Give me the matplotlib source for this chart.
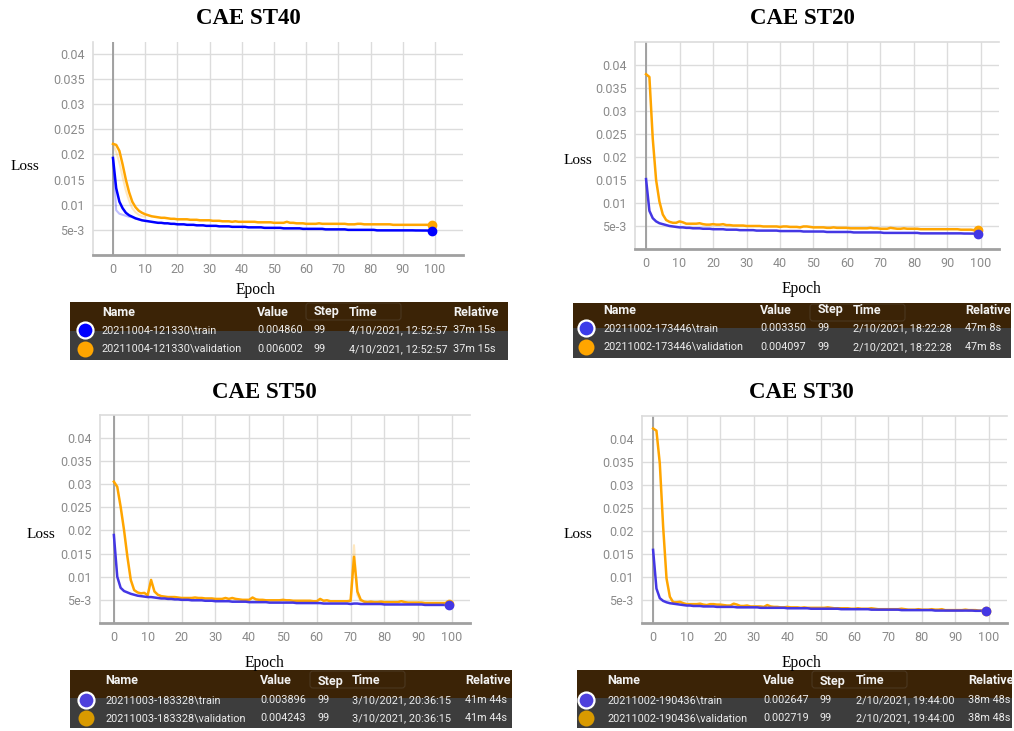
import matplotlib
matplotlib.use("Agg")
import matplotlib.pyplot as plt
from matplotlib.patches import Rectangle, FancyBboxPatch

W, H, DPI = 1014, 731, 100

epochs = list(range(100))

# ---- CAE ST40 ----
st40_train = [0.0193, 0.0133, 0.0106, 0.0093, 0.0084, 0.0079, 0.0076, 0.0073, 0.0071, 0.0069,
              0.0068, 0.0067, 0.0066, 0.0065, 0.0064, 0.0064, 0.0063, 0.0063, 0.0062, 0.0062,
              0.0061, 0.0061, 0.0061, 0.0060, 0.0060, 0.0060, 0.0059, 0.0059, 0.0059, 0.0058,
              0.0058, 0.0058, 0.0058, 0.0057, 0.0057, 0.0057, 0.0057, 0.0056, 0.0056, 0.0056,
              0.0056, 0.0056, 0.0055, 0.0055, 0.0055, 0.0055, 0.0055, 0.0054, 0.0054, 0.0054,
              0.0054, 0.0054, 0.0054, 0.0053, 0.0053, 0.0053, 0.0053, 0.0053, 0.0053, 0.0052,
              0.0052, 0.0052, 0.0052, 0.0052, 0.0052, 0.0052, 0.0051, 0.0051, 0.0051, 0.0051,
              0.0051, 0.0051, 0.0051, 0.0050, 0.0050, 0.0050, 0.0050, 0.0050, 0.0050, 0.0050,
              0.0050, 0.0050, 0.0049, 0.0049, 0.0049, 0.0049, 0.0049, 0.0049, 0.0049, 0.0049,
              0.0049, 0.0049, 0.0049, 0.0049, 0.00488, 0.00488, 0.00487, 0.00487, 0.00486, 0.00486]
st40_val = [0.0221, 0.0219, 0.0207, 0.0180, 0.0150, 0.0125, 0.0106, 0.0095, 0.0088, 0.0084,
            0.0081, 0.0079, 0.0077, 0.0076, 0.0075, 0.0074, 0.0074, 0.0073, 0.0072, 0.0072,
            0.0071, 0.0071, 0.0071, 0.0071, 0.0070, 0.0070, 0.0070, 0.0069, 0.0069, 0.0069,
            0.0069, 0.0068, 0.0068, 0.0068, 0.0067, 0.0067, 0.0067, 0.0066, 0.0067, 0.0066,
            0.0066, 0.0066, 0.0066, 0.0066, 0.0066, 0.0065, 0.0065, 0.0065, 0.0065, 0.0065,
            0.0064, 0.0064, 0.0064, 0.0064, 0.0066, 0.0064, 0.0064, 0.0063, 0.0063, 0.0063,
            0.0062, 0.0062, 0.0062, 0.0062, 0.0063, 0.0062, 0.0062, 0.0062, 0.0062, 0.0062,
            0.0062, 0.0062, 0.0062, 0.0061, 0.0061, 0.0061, 0.0062, 0.0062, 0.0061, 0.0061,
            0.0061, 0.0061, 0.0061, 0.0061, 0.0061, 0.0061, 0.0061, 0.0060, 0.0060, 0.0060,
            0.0060, 0.0060, 0.0060, 0.0060, 0.0060, 0.0060, 0.0060, 0.0060, 0.0060, 0.0060]
st40_train_raw_x = [0, 1, 2, 3, 4, 5, 6, 7, 8]
st40_train_raw = [0.0193, 0.0089, 0.0082, 0.0080, 0.0078, 0.0076, 0.0075, 0.0072, 0.0071]
st40_val_raw_x = [0, 1, 2, 3, 4, 5, 6, 7, 8, 9, 10]
st40_val_raw = [0.0221, 0.0205, 0.0183, 0.0155, 0.0128, 0.0108, 0.0093, 0.0085, 0.0080, 0.0077, 0.0076]

# ---- CAE ST20 ----
st20_train = [0.0152, 0.0083, 0.0067, 0.0060, 0.0056, 0.0054, 0.0052, 0.0050, 0.0049, 0.0048,
              0.0047, 0.0047, 0.0046, 0.0046, 0.0045, 0.0045, 0.0045, 0.0044, 0.0044, 0.0044,
              0.0043, 0.0043, 0.0043, 0.0043, 0.0042, 0.0042, 0.0042, 0.0042, 0.0041, 0.0041,
              0.0041, 0.0041, 0.0041, 0.0040, 0.0040, 0.0040, 0.0040, 0.0040, 0.0040, 0.0040,
              0.0039, 0.0039, 0.0039, 0.0039, 0.0039, 0.0039, 0.0039, 0.0038, 0.0038, 0.0038,
              0.0038, 0.0038, 0.0038, 0.0038, 0.0037, 0.0037, 0.0037, 0.0037, 0.0037, 0.0037,
              0.0037, 0.0037, 0.0036, 0.0036, 0.0036, 0.0036, 0.0036, 0.0036, 0.0036, 0.0036,
              0.0036, 0.0035, 0.0035, 0.0035, 0.0035, 0.0035, 0.0035, 0.0035, 0.0035, 0.0035,
              0.0035, 0.0035, 0.0034, 0.0034, 0.0034, 0.0034, 0.0034, 0.0034, 0.0034, 0.0034,
              0.0034, 0.0034, 0.0034, 0.0034, 0.0034, 0.00336, 0.00336, 0.00335, 0.00335, 0.00335]
st20_val = [0.0380, 0.0374, 0.0240, 0.0150, 0.0103, 0.0075, 0.0063, 0.0059, 0.0057, 0.0057,
            0.0060, 0.0058, 0.0055, 0.0055, 0.0055, 0.0055, 0.0056, 0.0054, 0.0053, 0.0053,
            0.0054, 0.0053, 0.0053, 0.0054, 0.0052, 0.0052, 0.0051, 0.0051, 0.0051, 0.0051,
            0.0050, 0.0050, 0.0050, 0.0050, 0.0050, 0.0049, 0.0049, 0.0049, 0.0049, 0.0049,
            0.0048, 0.0049, 0.0049, 0.0048, 0.0048, 0.0048, 0.0047, 0.0049, 0.0049, 0.0048,
            0.0047, 0.0047, 0.0047, 0.0047, 0.0046, 0.0046, 0.0047, 0.0046, 0.0046, 0.0046,
            0.0046, 0.0045, 0.0045, 0.0045, 0.0045, 0.0045, 0.0045, 0.0046, 0.0045, 0.0045,
            0.0044, 0.0044, 0.0044, 0.0046, 0.0045, 0.0044, 0.0044, 0.0045, 0.0044, 0.0044,
            0.0044, 0.0044, 0.0043, 0.0043, 0.0043, 0.0043, 0.0043, 0.0043, 0.0043, 0.0043,
            0.0043, 0.0043, 0.0043, 0.0043, 0.0042, 0.0042, 0.0042, 0.0042, 0.0041, 0.0041]

# ---- CAE ST50 ----
st50_train = [0.0190, 0.0100, 0.0076, 0.0069, 0.0066, 0.0063, 0.0061, 0.0059, 0.0058, 0.0057,
              0.0056, 0.0056, 0.0055, 0.0054, 0.0053, 0.0053, 0.0052, 0.0052, 0.0051, 0.0051,
              0.0050, 0.0050, 0.0050, 0.0049, 0.0049, 0.0049, 0.0049, 0.0048, 0.0048, 0.0048,
              0.0047, 0.0047, 0.0047, 0.0047, 0.0047, 0.0046, 0.0046, 0.0046, 0.0046, 0.0046,
              0.0045, 0.0045, 0.0045, 0.0045, 0.0045, 0.0045, 0.0044, 0.0044, 0.0044, 0.0044,
              0.0044, 0.0044, 0.0044, 0.0044, 0.0043, 0.0043, 0.0043, 0.0043, 0.0043, 0.0043,
              0.0043, 0.0043, 0.0042, 0.0042, 0.0042, 0.0042, 0.0042, 0.0042, 0.0042, 0.0042,
              0.0041, 0.0042, 0.0042, 0.0041, 0.0041, 0.0041, 0.0041, 0.0041, 0.0041, 0.0041,
              0.0040, 0.0040, 0.0040, 0.0040, 0.0040, 0.0040, 0.0040, 0.0040, 0.0040, 0.0040,
              0.0040, 0.0040, 0.0039, 0.0039, 0.0039, 0.0039, 0.0039, 0.0039, 0.0039, 0.0039]
st50_val = [0.0305, 0.0294, 0.0251, 0.0201, 0.0143, 0.0093, 0.0071, 0.0066, 0.0064, 0.0065,
            0.0060, 0.0093, 0.0068, 0.0061, 0.0058, 0.0057, 0.0056, 0.0056, 0.0056, 0.0055,
            0.0054, 0.0054, 0.0054, 0.0054, 0.0055, 0.0054, 0.0054, 0.0053, 0.0053, 0.0053,
            0.0052, 0.0052, 0.0052, 0.0054, 0.0052, 0.0054, 0.0052, 0.0051, 0.0050, 0.0050,
            0.0050, 0.0055, 0.0051, 0.0050, 0.0050, 0.0049, 0.0049, 0.0049, 0.0049, 0.0049,
            0.0050, 0.0049, 0.0049, 0.0048, 0.0048, 0.0048, 0.0048, 0.0048, 0.0048, 0.0047,
            0.0047, 0.0052, 0.0048, 0.0049, 0.0047, 0.0047, 0.0047, 0.0047, 0.0047, 0.0047,
            0.0048, 0.0143, 0.0068, 0.0050, 0.0046, 0.0045, 0.0046, 0.0045, 0.0045, 0.0046,
            0.0045, 0.0045, 0.0045, 0.0045, 0.0045, 0.0047, 0.0045, 0.0044, 0.0044, 0.0044,
            0.0044, 0.0044, 0.0043, 0.0043, 0.0043, 0.0043, 0.0043, 0.0043, 0.0043, 0.0042]
st50_val_raw_x = [69, 70, 71, 72, 73]
st50_val_raw = [0.0047, 0.0048, 0.0168, 0.0060, 0.0047]

# ---- CAE ST30 ----
st30_train = [0.0159, 0.0075, 0.0054, 0.0048, 0.0045, 0.0043, 0.0042, 0.0041, 0.0040, 0.0039,
              0.0038, 0.0038, 0.0037, 0.0037, 0.0037, 0.0036, 0.0036, 0.0036, 0.0036, 0.0035,
              0.0035, 0.0035, 0.0035, 0.0035, 0.0035, 0.0034, 0.0034, 0.0034, 0.0034, 0.0034,
              0.0034, 0.0034, 0.0033, 0.0033, 0.0033, 0.0033, 0.0033, 0.0033, 0.0033, 0.0033,
              0.0032, 0.0032, 0.0032, 0.0032, 0.0032, 0.0032, 0.0032, 0.0031, 0.0031, 0.0031,
              0.0031, 0.0031, 0.0031, 0.0031, 0.0031, 0.0031, 0.0030, 0.0030, 0.0030, 0.0030,
              0.0030, 0.0030, 0.0030, 0.0030, 0.0030, 0.0029, 0.0029, 0.0029, 0.0029, 0.0029,
              0.0029, 0.0029, 0.0029, 0.0029, 0.0028, 0.0028, 0.0028, 0.0028, 0.0028, 0.0028,
              0.0028, 0.0028, 0.0028, 0.0028, 0.0027, 0.0027, 0.0027, 0.0027, 0.0027, 0.0027,
              0.0027, 0.0027, 0.0027, 0.0027, 0.0027, 0.0027, 0.00265, 0.00265, 0.00265, 0.00265]
st30_val = [0.0423, 0.0418, 0.0347, 0.0209, 0.0097, 0.0057, 0.0045, 0.0045, 0.0046, 0.0043,
            0.0041, 0.0041, 0.0041, 0.0041, 0.0042, 0.0040, 0.0039, 0.0041, 0.0041, 0.0040,
            0.0040, 0.0039, 0.0038, 0.0038, 0.0042, 0.0040, 0.0037, 0.0037, 0.0038, 0.0036,
            0.0036, 0.0036, 0.0036, 0.0035, 0.0039, 0.0036, 0.0035, 0.0035, 0.0034, 0.0034,
            0.0035, 0.0034, 0.0034, 0.0034, 0.0033, 0.0034, 0.0033, 0.0033, 0.0033, 0.0033,
            0.0033, 0.0033, 0.0034, 0.0033, 0.0032, 0.0032, 0.0032, 0.0032, 0.0032, 0.0031,
            0.0031, 0.0032, 0.0031, 0.0031, 0.0031, 0.0032, 0.0031, 0.0030, 0.0030, 0.0030,
            0.0030, 0.0030, 0.0030, 0.0030, 0.0031, 0.0030, 0.0029, 0.0029, 0.0029, 0.0030,
            0.0029, 0.0029, 0.0029, 0.0030, 0.0029, 0.0029, 0.0030, 0.0028, 0.0028, 0.0028,
            0.0028, 0.0028, 0.0028, 0.0029, 0.0028, 0.0028, 0.0028, 0.0027, 0.0027, 0.0027]

y_ticks = [0.005, 0.01, 0.015, 0.02, 0.025, 0.03, 0.035, 0.04]
y_tick_labels = ["5e-3", "0.01", "0.015", "0.02", "0.025", "0.03", "0.035", "0.04"]
x_ticks = list(range(0, 101, 10))

# legend tables: (run name, value, step, time, relative)
tab40 = [("20211004-121330\\train", "0.004860", "99", "4/10/2021, 12:52:57", "37m 15s"),
         ("20211004-121330\\validation", "0.006002", "99", "4/10/2021, 12:52:57", "37m 15s")]
tab20 = [("20211002-173446\\train", "0.003350", "99", "2/10/2021, 18:22:28", "47m 8s"),
         ("20211002-173446\\validation", "0.004097", "99", "2/10/2021, 18:22:28", "47m 8s")]
tab50 = [("20211003-183328\\train", "0.003896", "99", "3/10/2021, 20:36:15", "41m 44s"),
         ("20211003-183328\\validation", "0.004243", "99", "3/10/2021, 20:36:15", "41m 44s")]
tab30 = [("20211002-190436\\train", "0.002647", "99", "2/10/2021, 19:44:00", "38m 48s"),
         ("20211002-190436\\validation", "0.002719", "99", "2/10/2021, 19:44:00", "38m 48s")]
headers = ["Name", "Value", "Step", "Time", "Relative"]

ORANGE = "#ffa500"
BLUE = "#0000ff"
INDIGO = "#4437e4"

fig = plt.figure(figsize=(W / DPI, H / DPI), dpi=DPI)
fig.patch.set_facecolor("white")

# full-figure pixel canvas for titles, labels and tables
canvas = fig.add_axes([0, 0, 1, 1])
canvas.set_xlim(0, W)
canvas.set_ylim(H, 0)
canvas.axis("off")

SERIF = "Liberation Serif"
SANS = "Roboto"


def panel(box, xlim, ylim, train, val, c_train, c_val, title, title_xy, loss_xy,
          epoch_xy, top_line=True, raw=()):
    x0, top, x1, bottom = box
    ax = fig.add_axes([x0 / W, 1 - bottom / H, (x1 - x0) / W, (bottom - top) / H])
    ax.set_xlim(*xlim)
    ax.set_ylim(*ylim)
    for sp in ax.spines.values():
        sp.set_visible(False)
    ax.set_xticks(x_ticks)
    ax.set_yticks(y_ticks, labels=y_tick_labels)
    ax.grid(True, color="#dcdcdc", lw=1.0)
    ax.set_axisbelow(True)
    ax.tick_params(length=0, colors="#8a8a8a", labelsize=9, pad=6)
    for lab in ax.get_xticklabels() + ax.get_yticklabels():
        lab.set_family(SANS)
    ax.axvline(0, color="#9b9b9b", lw=1.3, zorder=1)
    ax.axvline(xlim[0], color="#dcdcdc", lw=1.2, zorder=1, clip_on=False)
    ax.axhline(0, color="#a0a0a0", lw=2.0, zorder=1, clip_on=False)
    if top_line:
        ax.axhline(ylim[1], color="#dcdcdc", lw=1.2, zorder=1, clip_on=False)
    for xs, ys, c in raw:
        ax.plot(xs, ys, color=c, lw=1.5, alpha=0.25, zorder=2, solid_capstyle="round")
    ax.plot(epochs, val, color=c_val, lw=1.8, zorder=3)
    ax.plot(epochs, train, color=c_train, lw=1.8, zorder=4)
    ax.plot(epochs[-1], val[-1], "o", color=c_val, ms=6, zorder=5)
    ax.plot(epochs[-1], train[-1], "o", color=c_train, ms=6, zorder=6)
    canvas.text(*title_xy, title, family=SERIF, weight="bold", fontsize=16.5,
                ha="center", va="center")
    canvas.text(*loss_xy, "Loss", family=SERIF, fontsize=11, ha="center", va="center")
    canvas.text(*epoch_xy, "Epoch", family=SERIF, fontsize=11.2, ha="center", va="center")
    return ax


def table(x0, x1, top, split, bottom, rows, cols, row_y, dot_colors, ring):
    canvas.add_patch(Rectangle((x0, top), x1 - x0, split - top, color="#3b2306", lw=0))
    canvas.add_patch(Rectangle((x0, split), x1 - x0, bottom - split, color="#3d3d3d", lw=0))
    # faint outline of a button showing through the dark strip
    canvas.add_patch(FancyBboxPatch((cols[3] - 8, top + 1), 95, 17,
                                    boxstyle="round,pad=0,rounding_size=3",
                                    fc="none", ec="#4a3720", lw=0.8))
    for j, h in enumerate(headers):
        canvas.text(cols[j + 1], row_y[0], h, family=SANS, weight="bold", fontsize=9,
                    color="#f2f2f2", va="center", ha="left")
    for i, row in enumerate(rows):
        y = row_y[i + 1]
        canvas.plot(cols[0], y, "o", ms=11.5, color=dot_colors[i],
                    mec="white" if ring[i] else dot_colors[i], mew=1.6 if ring[i] else 0)
        for j, cell in enumerate(row):
            canvas.text(cols[j + 1], y, cell, family=SANS, fontsize=7.8,
                        color="#ececec", va="center", ha="left")


# top-left: CAE ST40
panel((93, 42, 463, 255), (-6.2, 108.7), (0, 0.04236), st40_train, st40_val, BLUE, ORANGE,
      "CAE ST40", (248, 18), (25, 166), (255, 290), top_line=False,
      raw=[(st40_train_raw_x, st40_train_raw, BLUE), (st40_val_raw_x, st40_val_raw, ORANGE)])
table(70, 508, 302, 331, 360, tab40, [85, 102, 257, 314, 349, 453], [312, 330, 349],
      [BLUE, ORANGE], [True, False])

# top-right: CAE ST20
panel((635, 42, 999, 249), (-3.3, 105.4), (0, 0.045), st20_train, st20_val, INDIGO, ORANGE,
      "CAE ST20", (802, 19), (578, 160), (801, 289))
table(573, 1011, 303, 328, 358, tab20, [586, 603, 760, 818, 853, 965], [310, 328, 347],
      ["#3b3be8", ORANGE], [True, False])

# bottom-left: CAE ST50
panel((100, 415, 470, 623), (-4.1, 105.3), (0, 0.0449), st50_train, st50_val, INDIGO, ORANGE,
      "CAE ST50", (264, 393), (41, 534), (264, 663),
      raw=[(st50_val_raw_x, st50_val_raw, ORANGE)])
table(70, 512, 670, 698, 728, tab50, [86, 105, 260, 318, 352, 465], [681, 700, 718],
      ["#4e40dc", "#d99a00"], [True, False])

# bottom-right: CAE ST30
panel((642, 416, 1007, 623), (-3.3, 105.4), (0, 0.045), st30_train, st30_val, INDIGO, ORANGE,
      "CAE ST30", (801, 393), (578, 534), (801, 663))
table(577, 1012, 670, 698, 728, tab30, [586, 607, 763, 820, 856, 968], [681, 700, 718],
      ["#4e40dc", "#d99a00"], [True, False])

fig.savefig("out.png", dpi=DPI)
